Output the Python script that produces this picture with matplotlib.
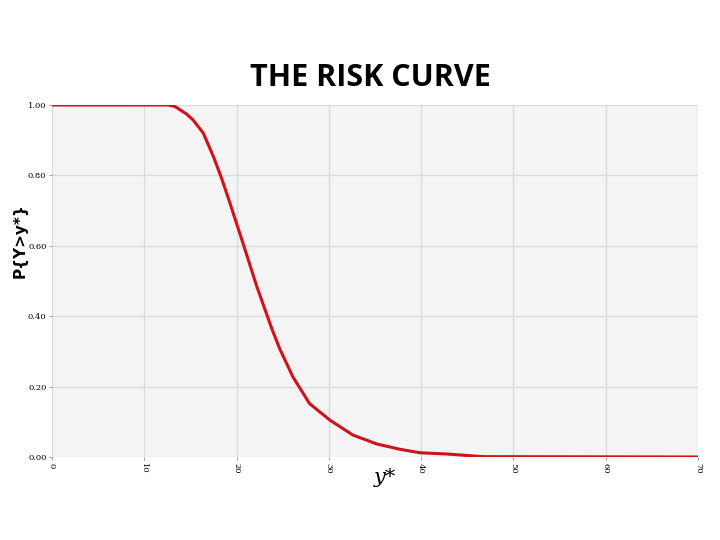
import matplotlib
matplotlib.use("Agg")
import matplotlib.pyplot as plt
import numpy as np

# risk curve: y* vs P{Y>y*}
ystar = [0, 12.6, 13.3, 13.9, 14.6, 15.3, 16.4, 17.5, 18.4, 19.2, 20.7, 22.2,
         23.8, 24.7, 26.1, 27.9, 30.1, 32.6, 35.2, 37.7, 39.9, 42.8, 46.7, 70]
prob = [1.0, 1.0, 0.996, 0.986, 0.974, 0.957, 0.920, 0.853, 0.790, 0.728, 0.607,
        0.484, 0.366, 0.306, 0.228, 0.152, 0.105, 0.0625, 0.037, 0.022, 0.012,
        0.0085, 0.001, 0.0]

xticks = [0, 10, 20, 30, 40, 50, 60, 70]
yticks = [0.0, 0.2, 0.4, 0.6, 0.8, 1.0]

fig = plt.figure(figsize=(7.2, 5.4), dpi=100)
ax = fig.add_axes([0.0722, 0.1537, 0.8972, 0.6519])
ax.set_facecolor('#f4f4f4')

ax.plot(ystar, prob, color='#d0121b', lw=2.2, zorder=3)

ax.set_xlim(0, 70)
ax.set_ylim(0, 1)
ax.set_xticks(xticks)
ax.set_yticks(yticks)
ax.set_xticklabels([str(t) for t in xticks], rotation=-90, family='DejaVu Serif', fontsize=6)
ax.set_yticklabels(['%.2f' % t for t in yticks], family='DejaVu Serif', fontsize=6)
ax.tick_params(length=2, width=0.6, color='#888888', pad=2)
ax.grid(True, color='#d9d9d9', lw=0.9)
ax.set_axisbelow(True)
for s in ax.spines.values():
    s.set_visible(False)

fig.text(0.028, 0.554, 'P{Y>y*}', fontsize=11, fontweight='bold', family='DejaVu Sans',
         rotation=90, ha='center', va='center')
fig.text(0.535, 0.105, 'y*', fontsize=15, style='italic', family='DejaVu Serif', ha='center')
fig.text(0.514, 0.841, 'THE RISK CURVE', fontsize=22, fontweight='bold', family='Open Sans', ha='center')

fig.savefig('out.png', dpi=100)
